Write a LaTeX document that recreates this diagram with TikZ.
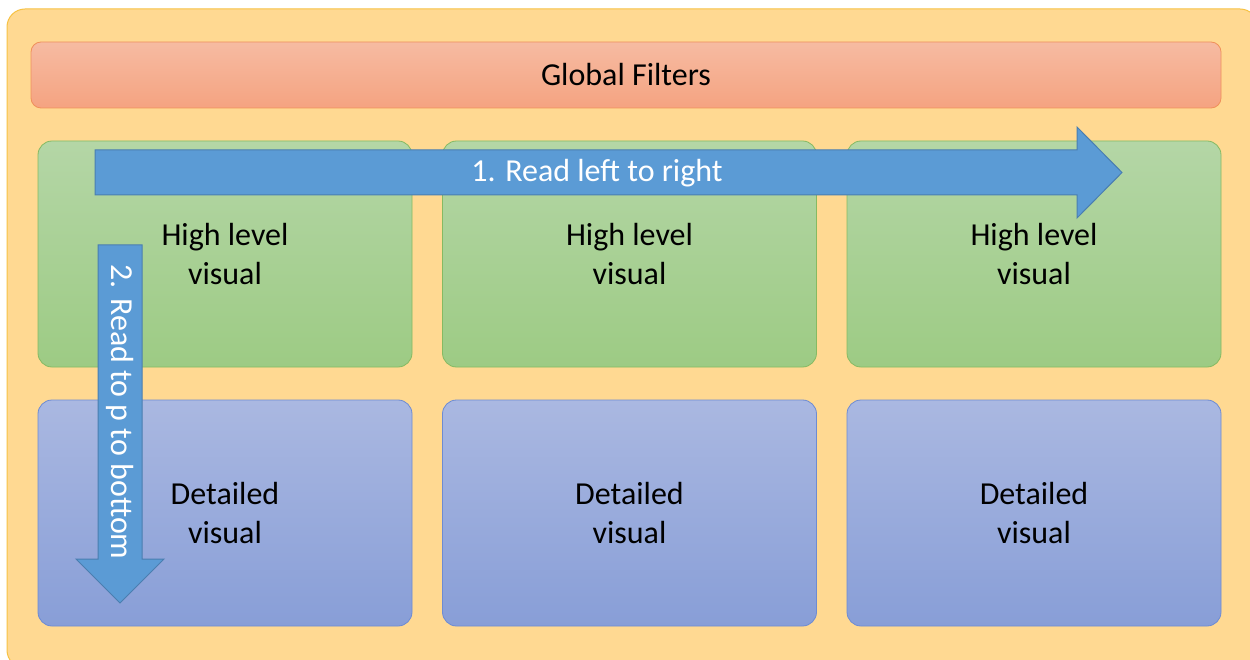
\documentclass[tikz,border=0pt]{standalone}
\usepackage{fontspec}
\setmainfont{Carlito}
\definecolor{panelfill}{HTML}{FFD992}
\definecolor{panelline}{HTML}{F7C244}
\definecolor{filtertop}{HTML}{F6BBA2}
\definecolor{filterbot}{HTML}{F5A381}
\definecolor{filterline}{HTML}{F0905A}
\definecolor{greentop}{HTML}{B4D6A6}
\definecolor{greenbot}{HTML}{9DCB84}
\definecolor{greenline}{HTML}{86BA62}
\definecolor{bluetop}{HTML}{AAB8E1}
\definecolor{bluebot}{HTML}{889ED7}
\definecolor{blueline}{HTML}{6D8BD3}
\definecolor{arrowfill}{HTML}{5B9BD5}
\definecolor{arrowline}{HTML}{4A7EB0}
\tikzset{
  panel/.style={draw=panelline, fill=panelfill, line width=1pt, rounded corners=18pt,
    minimum width=1251pt, minimum height=659pt, inner sep=0pt},
  filterbar/.style={draw=filterline, top color=filtertop, bottom color=filterbot,
    line width=0.8pt, rounded corners=10pt, minimum width=1190pt, minimum height=66pt,
    inner sep=0pt, font=\fontsize{32}{38}\selectfont},
  hivisual/.style={draw=greenline, top color=greentop, bottom color=greenbot,
    line width=0.8pt, rounded corners=14pt, minimum width=374pt, minimum height=226pt,
    inner sep=0pt, align=center, font=\fontsize{32}{38.5}\selectfont},
  detvisual/.style={hivisual, draw=blueline, top color=bluetop, bottom color=bluebot},
  blockarrow/.style={draw=arrowline, fill=arrowfill, line width=1pt, line join=miter},
  arrowlabel/.style={text=white, inner sep=0pt, font=\fontsize{32}{38}\selectfont}
}
\begin{document}
\begin{tikzpicture}[x=1pt, y=-1pt]
\useasboundingbox (0,0) rectangle (1250,660);
\clip (0,0) rectangle (1250,660);
\fill[white] (0,0) rectangle (1250,660);
% background panel
\node[panel] (panel) at (632.5,338.5) {};
% filter bar
\node[filterbar] (filters) at (626,75) {Global Filters};
% top row
\node[hivisual] (hi1) at (225,254) {High level\\visual};
\node[hivisual] (hi2) at (629.5,254) {High level\\visual};
\node[hivisual] (hi3) at (1034,254) {High level\\visual};
% bottom row
\node[detvisual] (de1) at (225,513) {Detailed\\visual};
\node[detvisual] (de2) at (629.5,513) {Detailed\\visual};
\node[detvisual] (de3) at (1034,513) {Detailed\\visual};
% reading direction arrows
\draw[blockarrow] (95,150) -- (1077,150) -- (1077,127) -- (1122,172.5)
  -- (1077,218) -- (1077,195) -- (95,195) -- cycle;
\node[arrowlabel] (lr) at (597,173) {1. Read left to right};
\draw[blockarrow] (98,245) -- (142,245) -- (142,559) -- (164,559) -- (120,603)
  -- (76,559) -- (98,559) -- cycle;
\node[arrowlabel, rotate=-90] (tb) at (120,412) {2. Read to p to bottom};
\end{tikzpicture}
\end{document}
